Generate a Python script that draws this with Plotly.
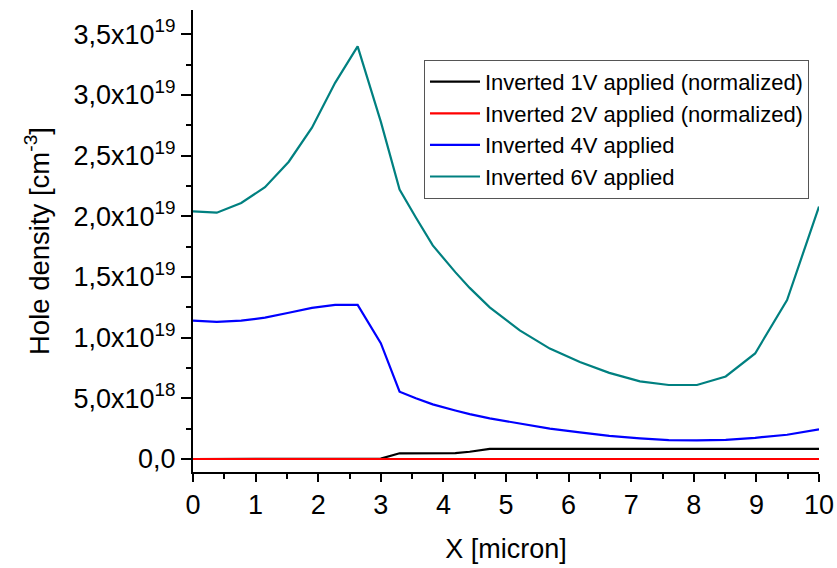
import plotly.graph_objects as go

# Position along the device [micron]
x_um = [0, 0.38, 0.77, 1.15, 1.53, 1.9, 2.27, 2.63, 3.0, 3.3, 3.56, 3.83, 4.19,
        4.42, 4.74, 5.22, 5.7, 6.18, 6.65, 7.14, 7.6, 8.05, 8.51, 8.98, 9.49, 10]

# Hole density in units of 1e19 cm^-3
p_1v = [0, 0, 0, 0, 0, 0, 0, 0, 0.003, 0.047, 0.047, 0.047, 0.048,
        0.06, 0.084, 0.084, 0.084, 0.084, 0.084, 0.084, 0.084, 0.084, 0.084, 0.084, 0.084, 0.084]
p_2v = [0] * len(x_um)
p_4v = [1.14, 1.13, 1.14, 1.165, 1.205, 1.245, 1.27, 1.27, 0.955, 0.555, 0.50, 0.45, 0.40,
        0.37, 0.335, 0.29, 0.25, 0.22, 0.19, 0.17, 0.155, 0.153, 0.158, 0.175, 0.20, 0.245]
p_6v = [2.04, 2.03, 2.11, 2.24, 2.45, 2.73, 3.10, 3.40, 2.78, 2.22, 1.99, 1.76, 1.54,
        1.41, 1.25, 1.06, 0.91, 0.80, 0.71, 0.64, 0.61, 0.61, 0.68, 0.87, 1.31, 2.08]

series_names = ["Inverted 1V applied (normalized)", "Inverted 2V applied (normalized)",
                "Inverted 4V applied", "Inverted 6V applied"]
series_colors = ["#000000", "#FF0000", "#0000FF", "#008080"]

y_tick_vals = [0, 0.5e19, 1.0e19, 1.5e19, 2.0e19, 2.5e19, 3.0e19, 3.5e19]
y_tick_text = ["0,0", "5,0x10<sup>18</sup>", "1,0x10<sup>19</sup>", "1,5x10<sup>19</sup>",
               "2,0x10<sup>19</sup>", "2,5x10<sup>19</sup>", "3,0x10<sup>19</sup>",
               "3,5x10<sup>19</sup>"]

FONT = "Liberation Sans, Arial, sans-serif"

fig = go.Figure()
for name, color, vals in zip(series_names, series_colors, [p_1v, p_2v, p_4v, p_6v]):
    fig.add_trace(go.Scatter(
        x=x_um, y=[v * 1e19 for v in vals], mode="lines", name=name,
        line=dict(color=color, width=2.2),
    ))

fig.update_layout(
    width=837, height=568,
    margin=dict(l=193, r=18, t=10, b=96, autoexpand=False),
    paper_bgcolor="white", plot_bgcolor="white",
    font=dict(family=FONT, color="black"),
    showlegend=True,
    legend=dict(
        x=0.369, y=0.892, xanchor="left", yanchor="top",
        bordercolor="#555555", borderwidth=1, bgcolor="white",
        font=dict(size=22, family=FONT, color="black"),
        tracegroupgap=0, itemwidth=50,
    ),
)

fig.update_xaxes(
    range=[0, 10], tickvals=list(range(11)), automargin=False,
    showline=True, linecolor="black", linewidth=2,
    ticks="outside", ticklen=8, tickwidth=2, tickcolor="black",
    minor=dict(dtick=0.5, ticks="outside", ticklen=5, tickwidth=2, tickcolor="black"),
    showgrid=False, zeroline=False,
    tickfont=dict(size=27, family=FONT),
    title=dict(text="X [micron]", font=dict(size=27, family=FONT), standoff=20),
)

fig.update_yaxes(
    range=[-1.07e18, 3.70e19], tickvals=y_tick_vals, ticktext=y_tick_text, automargin=False,
    showline=True, linecolor="black", linewidth=2,
    ticks="outside", ticklen=10, tickwidth=2, tickcolor="black",
    minor=dict(dtick=2.5e18, tick0=0, ticks="outside", ticklen=5, tickwidth=2, tickcolor="black"),
    showgrid=False, zeroline=False,
    tickfont=dict(size=27, family=FONT),
    title=dict(text="Hole density [cm<sup>-3</sup>]", font=dict(size=27.5, family=FONT), standoff=16),
)

fig.write_html("out.html")
